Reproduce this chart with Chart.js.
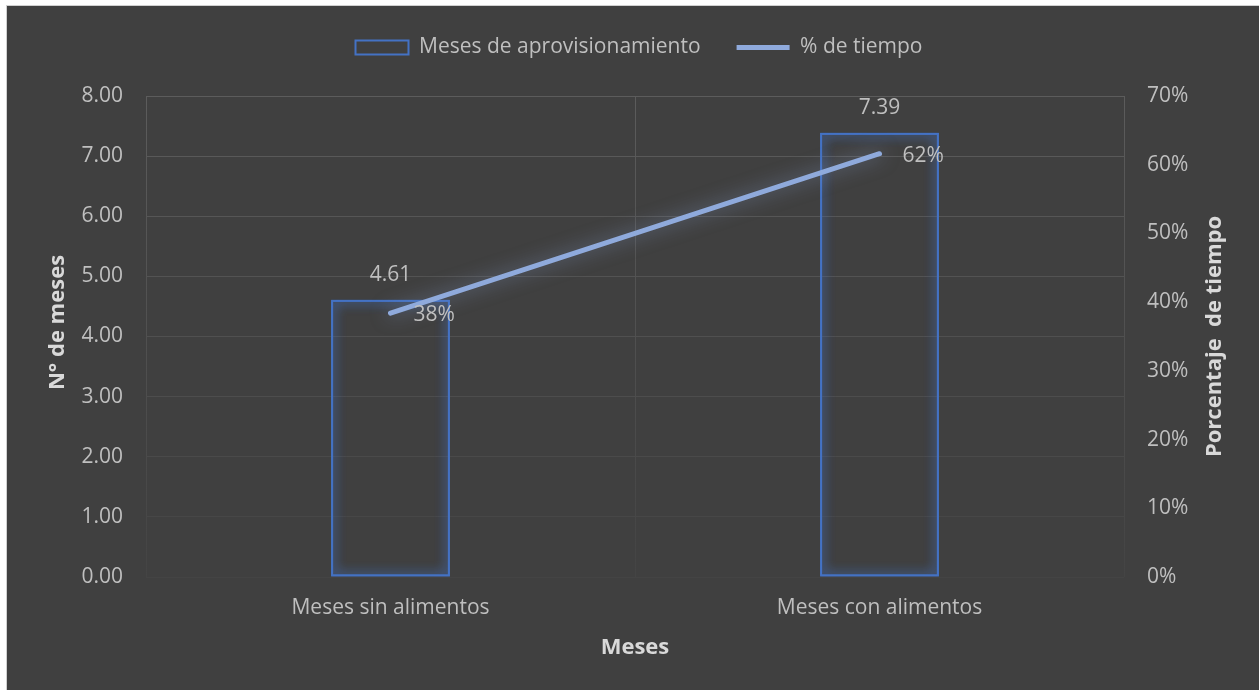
<!DOCTYPE html>
<html>
<head>
<meta charset="utf-8">
<script src="https://cdn.jsdelivr.net/npm/chart.js@4/dist/chart.umd.min.js"></script>
<style>
  html, body { margin: 0; padding: 0; background: #ffffff; }
  #wrap { position: absolute; left: 6px; top: 5px; width: 1252px; height: 684px; border: 1px solid #d0d0d0; background: #404040; }
  canvas { display: block; }
</style>
</head>
<body>
<div id="wrap"><canvas id="grafico" width="1252" height="684"></canvas></div>
<script>
  // Datos
  const categorias = ['Meses sin alimentos', 'Meses con alimentos'];
  const meses = [4.61, 7.39];
  const porcentaje = [0.384, 0.616];
  const ticksMeses = [0, 1, 2, 3, 4, 5, 6, 7, 8];
  const ticksPorc = [0, 0.1, 0.2, 0.3, 0.4, 0.5, 0.6, 0.7];
  const tituloIzq = 'N° de meses';
  const tituloDer = 'Porcentaje  de tiempo';

  const gris = '#bfbfbf';
  const titulo = '#d9d9d9';
  const tam = 21;
  Chart.defaults.font.family = "'Open Sans', sans-serif";
  Chart.defaults.font.size = tam;
  Chart.defaults.color = gris;

  // brillo alrededor de barras y linea
  const brillo = {
    id: 'brillo',
    beforeDatasetDraw(chart, args) {
      const ctx = chart.ctx;
      ctx.save();
      if (args.index === 0) { ctx.shadowColor = '#4472c4'; ctx.shadowBlur = 12; }
      else { ctx.shadowColor = 'rgba(143,170,220,0.55)'; ctx.shadowBlur = 18; }
    },
    afterDatasetDraw(chart, args) {
      // segunda pasada para reforzar el brillo de las barras
      if (args.index === 0) args.meta.data.forEach(el => el.draw(chart.ctx));
      chart.ctx.restore();
    }
  };

  // etiquetas de datos y titulos verticales
  const etiquetas = {
    id: 'etiquetas',
    afterDatasetsDraw(chart) {
      const ctx = chart.ctx;
      ctx.save();
      ctx.font = tam + "px 'Open Sans', sans-serif";
      ctx.fillStyle = gris;
      ctx.textBaseline = 'middle';
      chart.getDatasetMeta(0).data.forEach((b, i) => {
        ctx.textAlign = 'center';
        ctx.fillText(meses[i].toFixed(2), b.x, b.y - 25);
      });
      chart.getDatasetMeta(1).data.forEach((p, i) => {
        ctx.textAlign = 'left';
        ctx.fillText(Math.round(porcentaje[i] * 100) + '%', p.x + 23, p.y + 2);
      });
      ctx.restore();
    },
    afterDraw(chart) {
      const ctx = chart.ctx;
      const a = chart.chartArea;
      const mid = (a.top + a.bottom) / 2;
      ctx.save();
      ctx.font = "bold 22px 'Open Sans', sans-serif";
      ctx.fillStyle = titulo;
      ctx.textAlign = 'center';
      ctx.textBaseline = 'middle';
      [[tituloIzq, 51, mid - 14], [tituloDer, 1208, mid]].forEach(([t, x, y]) => {
        ctx.save();
        ctx.translate(x, y);
        ctx.rotate(-Math.PI / 2);
        ctx.fillText(t, 0, 0);
        ctx.restore();
      });
      ctx.restore();
    }
  };

  // posicion de la leyenda
  const leyenda = {
    id: 'leyenda',
    afterInit(chart) {
      const l = chart.legend;
      const fit = l.fit;
      l.fit = function () { fit.call(this); this.height = 90; };
    },
    afterLayout(chart) {
      const l = chart.legend;
      l.top = -5;
      l.left += 6;
      l.right += 6;
    }
  };

  const gradX = (c) => {
    const a = c.chart.chartArea;
    if (!a) return '#595959';
    const g = c.chart.ctx.createLinearGradient(0, a.top, 0, a.bottom);
    g.addColorStop(0, '#5c5c5c');
    g.addColorStop(1, '#444444');
    return g;
  };
  const gradY = (c) => {
    const v = c.tick ? c.tick.value : 0;
    const n = Math.round(68 + 24 * v / 8);
    return `rgb(${n},${n},${n})`;
  };

  new Chart(document.getElementById('grafico'), {
    data: {
      labels: categorias,
      datasets: [
        { type: 'bar', label: 'Meses de aprovisionamiento', data: meses, yAxisID: 'y',
          backgroundColor: 'rgba(0,0,0,0)', borderColor: '#4472c4', borderWidth: 2, borderSkipped: false,
          barPercentage: 0.243, categoryPercentage: 1, order: 1 },
        { type: 'line', label: '% de tiempo', data: porcentaje, yAxisID: 'y1',
          borderColor: '#8faadc', backgroundColor: '#8faadc', borderWidth: 5,
          pointRadius: 0, borderCapStyle: 'round', order: 0 }
      ]
    },
    options: {
      responsive: false,
      devicePixelRatio: 1,
      animation: false,
      layout: { padding: 0 },
      plugins: {
        tooltip: { enabled: false },
        legend: {
          position: 'top',
          labels: {
            color: gris, font: { size: tam }, padding: 36,
            usePointStyle: true, pointStyleWidth: 53, boxHeight: 14,
            generateLabels(chart) {
              const items = Chart.defaults.plugins.legend.labels.generateLabels(chart);
              items.sort((a, b) => a.datasetIndex - b.datasetIndex);
              items.forEach(it => {
                if (it.datasetIndex === 0) { it.pointStyle = 'rect'; it.fillStyle = 'rgba(0,0,0,0)'; it.lineWidth = 2; }
                else { it.pointStyle = 'line'; it.lineWidth = 5; }
              });
              return items;
            }
          }
        }
      },
      scales: {
        x: {
          grid: { color: gradX, drawTicks: false, offset: true },
          border: { display: false },
          ticks: { color: gris, font: { size: tam }, padding: 18 },
          title: { display: true, text: 'Meses', color: titulo, font: { size: 22, weight: 'bold' }, padding: { top: 0, bottom: 29 } },
          afterFit(s) { s.height = 113; }
        },
        y: {
          position: 'left', min: ticksMeses[0], max: ticksMeses[ticksMeses.length - 1],
          afterBuildTicks(s) { s.ticks = ticksMeses.map(v => ({ value: v })); },
          grid: { color: gradY, drawTicks: false },
          border: { display: false },
          ticks: { color: gris, font: { size: tam }, padding: 23, callback: v => Number(v).toFixed(2) },
          afterFit(s) { s.width = 139; }
        },
        y1: {
          position: 'right', min: ticksPorc[0], max: ticksPorc[ticksPorc.length - 1],
          afterBuildTicks(s) { s.ticks = ticksPorc.map(v => ({ value: v })); },
          grid: { display: false, drawTicks: false },
          border: { display: false },
          ticks: { color: gris, font: { size: tam }, padding: 23, callback: v => Math.round(v * 100) + '%' },
          afterFit(s) { s.width = 135; }
        }
      }
    },
    plugins: [brillo, etiquetas, leyenda]
  });
</script>
</body>
</html>
